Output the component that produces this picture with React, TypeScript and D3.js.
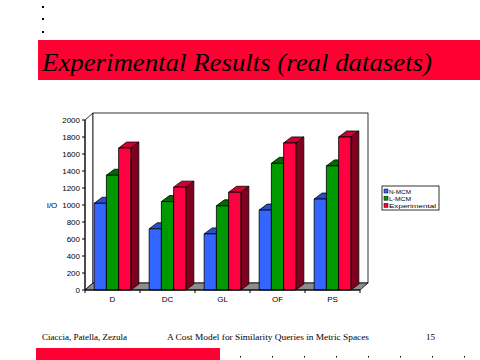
import * as d3 from "d3";

const categories = ["D", "DC", "GL", "OF", "PS"];
const series = ["N-MCM", "L-MCM", "Experimental"];
const nmcm = [1020, 720, 660, 940, 1070];
const lmcm = [1350, 1040, 990, 1490, 1460];
const experimental = [1670, 1210, 1150, 1730, 1800];
const yTicks = [0, 200, 400, 600, 800, 1000, 1200, 1400, 1600, 1800, 2000];

const values = [nmcm, lmcm, experimental];
const fronts = ["#3366ff", "#009900", "#ff0040"];
const tops = ["#2a4fcc", "#006b00", "#cc0033"];
const sides = ["#1f3d99", "#004d00", "#800020"];

const DX = 8;
const DY = -7;

export default function App() {
  const x = d3.scaleBand().domain(categories).range([85, 360]);
  const xs = d3
    .scaleBand()
    .domain(series)
    .range([0, x.bandwidth()])
    .paddingOuter(0.75);
  const y = d3.scaleLinear().domain([0, 2000]).range([290, 120]);
  const y0 = y(0);
  const yTop = y(2000);

  const bars: JSX.Element[] = [];
  categories.forEach((c, ci) => {
    series.forEach((s, si) => {
      const x0 = (x(c) ?? 0) + (xs(s) ?? 0);
      const w = xs.bandwidth();
      const yt = y(values[si][ci]);
      const dy = -6;
      bars.push(
        <g key={c + s} stroke="#000" strokeWidth={0.8} strokeLinejoin="round">
          <polygon
            points={`${x0 + w},${yt} ${x0 + w + DX},${yt + dy} ${x0 + w + DX},${y0 + dy} ${x0 + w},${y0}`}
            fill={sides[si]}
          />
          <polygon
            points={`${x0},${yt} ${x0 + DX},${yt + dy} ${x0 + w + DX},${yt + dy} ${x0 + w},${yt}`}
            fill={tops[si]}
          />
          <rect x={x0} y={yt} width={w} height={y0 - yt} fill={fronts[si]} />
        </g>
      );
    });
  });

  const xr = x.range()[1];
  const dots = d3.range(8).map((i) => 240 + i * 32);

  return (
    <svg
      width={480}
      height={360}
      style={{ position: "absolute", left: 0, top: 0, background: "#fff" }}
    >
      {[7, 19, 32].map((yy) => (
        <rect key={yy} x={42} y={yy - 1} width={2} height={2} fill="#000" />
      ))}
      <rect x={38} y={40} width={442} height={40} fill="#ff0033" />
      <text
        x={42}
        y={71}
        fontFamily="Liberation Serif"
        fontStyle="italic"
        fontSize={26}
        fill="#000"
        textLength={390}
        lengthAdjust="spacingAndGlyphs"
      >
        Experimental Results (real datasets)
      </text>

      {/* walls and floor */}
      <polygon
        points={`${85},${yTop} ${85 + DX},${yTop + DY} ${85 + DX},${y0 + DY} ${85},${y0}`}
        fill="#fff"
        stroke="#000"
        strokeWidth={0.8}
      />
      <rect
        x={85 + DX}
        y={yTop + DY}
        width={xr - 85}
        height={y0 - yTop}
        fill="#fff"
        stroke="#000"
        strokeWidth={0.8}
      />
      <polygon
        points={`${85},${y0} ${85 + DX},${y0 + DY} ${xr + DX},${y0 + DY} ${xr},${y0}`}
        fill="#8c8c8c"
        stroke="#000"
        strokeWidth={0.8}
      />

      {bars}

      {/* axes */}
      <line x1={85} x2={85} y1={yTop} y2={y0} stroke="#000" />
      <line x1={85} x2={xr} y1={y0} y2={y0} stroke="#000" />
      {yTicks.map((t) => (
        <g key={t}>
          <line x1={82} x2={85} y1={y(t)} y2={y(t)} stroke="#000" />
          <text
            x={80}
            y={y(t) + 3}
            textAnchor="end"
            fontFamily="Liberation Sans"
            fontSize={8}
            fill="#000"
          >
            {t}
          </text>
        </g>
      ))}
      {[...categories.map((c) => x(c) ?? 0), xr].map((t, i) => (
        <line key={i} x1={t} x2={t} y1={y0} y2={y0 + 3} stroke="#000" />
      ))}
      {categories.map((c) => (
        <text
          key={c}
          x={(x(c) ?? 0) + x.bandwidth() / 2}
          y={302}
          textAnchor="middle"
          fontFamily="Liberation Sans"
          fontSize={8}
          fill="#000"
        >
          {c}
        </text>
      ))}
      <text
        x={52}
        y={208}
        textAnchor="middle"
        fontFamily="Liberation Sans"
        fontSize={8}
        fill="#000"
      >
        I/O
      </text>

      {/* legend */}
      <rect x={382} y={186} width={57} height={24} fill="#fff" stroke="#000" strokeWidth={0.8} />
      {series.map((s, i) => (
        <g key={s}>
          <rect
            x={384}
            y={189 + i * 7.2}
            width={4}
            height={4}
            fill={fronts[i]}
            stroke="#000"
            strokeWidth={0.5}
          />
          <text
            x={389}
            y={193.5 + i * 7.2}
            fontFamily="Liberation Sans"
            fontSize={6}
            fill="#000"
            textLength={s === "Experimental" ? 47 : 22}
            lengthAdjust="spacingAndGlyphs"
          >
            {s}
          </text>
        </g>
      ))}

      {/* footer */}
      <text x={42} y={340} fontFamily="Liberation Serif" fontSize={9} fill="#000">
        Ciaccia, Patella, Zezula
      </text>
      <text
        x={167}
        y={340}
        fontFamily="Liberation Serif"
        fontSize={9}
        fill="#000"
        textLength={202}
        lengthAdjust="spacingAndGlyphs"
      >
        A Cost Model for Similarity Queries in Metric Spaces
      </text>
      <text x={426} y={340} fontFamily="Liberation Serif" fontSize={9} fill="#000">
        15
      </text>
      <rect x={36} y={348} width={184} height={12} fill="#ff0033" />
      {dots.map((dx) => (
        <rect key={dx} x={dx} y={356} width={1} height={1.5} fill="#000" />
      ))}
    </svg>
  );
}
